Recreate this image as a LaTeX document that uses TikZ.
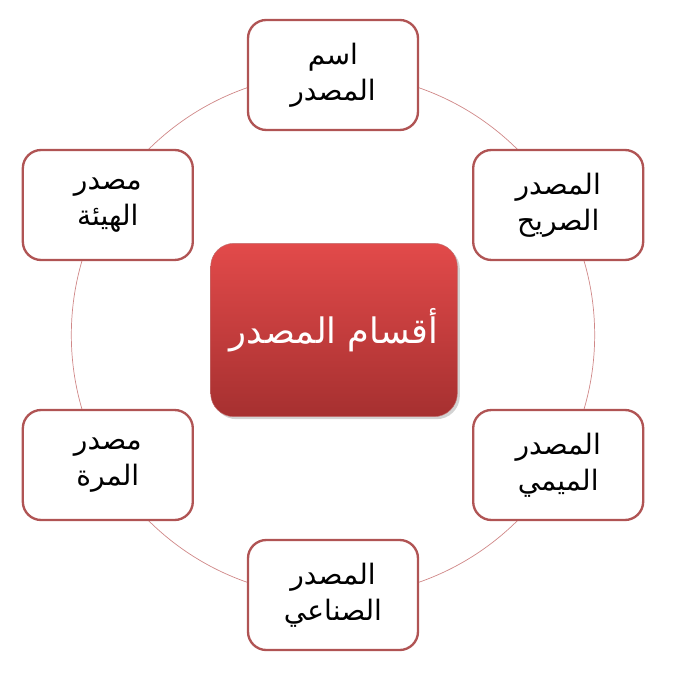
\documentclass[tikz,border=0pt]{standalone}
\usepackage{fontspec}
\newfontfamily\arabicfont[Script=Arabic]{DejaVu Sans}
\TeXXeTstate=1
\usetikzlibrary{shadows}
\definecolor{boxline}{HTML}{B05454}
\definecolor{ringline}{HTML}{D08888}
\definecolor{maintop}{HTML}{E24A4A}
\definecolor{mainbot}{HTML}{A63030}
\newcommand{\ar}[1]{{\arabicfont\beginR #1\endR}}
\begin{document}
\begin{tikzpicture}[x=0.03cm, y=-0.03cm, line join=round, line cap=round,
	kind/.style={draw=boxline, line width=2pt, fill=white, rounded corners=0.55cm, minimum width=5.1cm, minimum height=3.3cm, align=center, font=\fontsize{24}{31}\selectfont},
	main/.style={rounded corners=0.7cm, top color=maintop, bottom color=mainbot, draw=mainbot!70!white, minimum width=7.4cm, minimum height=5.2cm, text=white, font=\fontsize{30}{36}\selectfont, drop shadow={opacity=0.35}}]
	\useasboundingbox (0,0) rectangle (687,679);
	\coordinate (c) at (333,335);
	\draw [ringline, line width=0.6pt] (c) circle (7.85cm);
	\node[main] (aqsam) at (334,330) {\ar{أقسام المصدر}};
	\foreach \n/\a/\ta/\tb in {ism/90/اسم/المصدر, sarih/30/المصدر/الصريح, mimi/-30/المصدر/الميمي, sinai/-90/المصدر/الصناعي, marra/-150/مصدر/المرة, hay/150/مصدر/الهيئة}
		\node[kind] (\n) at ([shift={(\a:7.8cm)}]c) {\ar{\ta}\\\ar{\tb}};
\end{tikzpicture}
\end{document}
